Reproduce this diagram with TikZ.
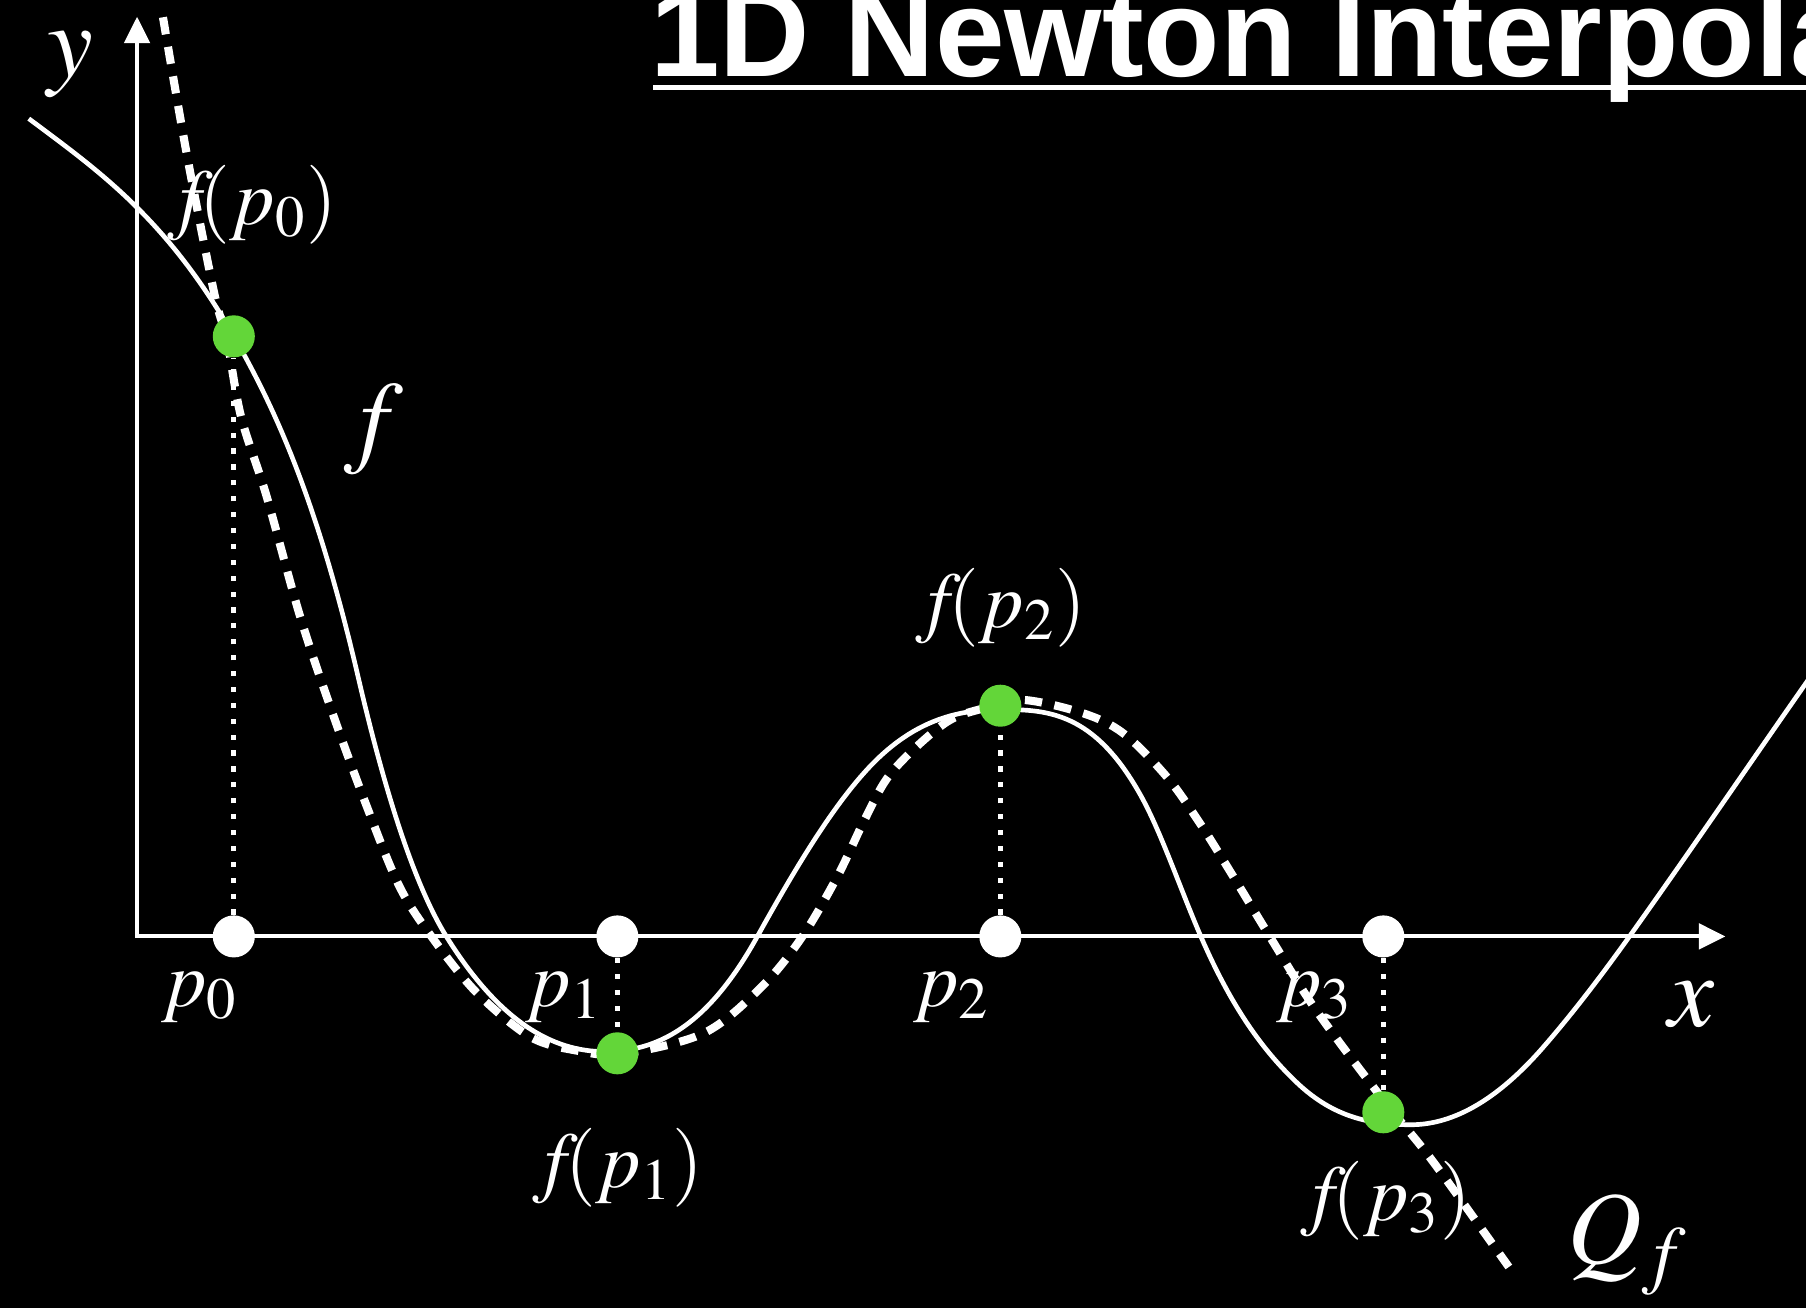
\documentclass[tikz,border=0pt]{standalone}
\usepackage{mathptmx}
\usepackage{fontspec}
\setmainfont{Liberation Serif}
\newfontfamily\titlefont{Liberation Sans}
\usetikzlibrary{arrows.meta,calc}
\definecolor{bg}{RGB}{0,0,0}
\definecolor{ink}{RGB}{255,255,255}
\definecolor{valgreen}{RGB}{99,214,57}

\begin{document}
\begin{tikzpicture}[
    >={Triangle[length=0.23cm,width=0.22cm]},
    axis/.style={draw=ink, line width=1.0pt},
    fcurve/.style={draw=ink, line width=1.15pt},
    qcurve/.style={draw=ink, line width=2pt, dash pattern=on 0.15cm off 0.11cm},
    drop/.style={draw=ink, line width=1.25pt, dash pattern=on 0.045cm off 0.093cm},
    xdot/.style={circle, fill=ink, inner sep=0pt, minimum size=0.365cm},
    ydot/.style={circle, fill=valgreen, inner sep=0pt, minimum size=0.365cm},
    smalllabel/.style={text=ink, inner sep=0pt, anchor=base, font=\fontsize{19.5}{23}\selectfont},
    biglabel/.style={text=ink, inner sep=0pt, anchor=base, font=\fontsize{25.5}{30}\selectfont},
    heading/.style={text=ink, inner sep=0pt, anchor=base west, font=\titlefont\bfseries\fontsize{30.9}{36}\selectfont}
]

% Canvas
\useasboundingbox (0,0) rectangle (15.68,11.36);
\fill[bg] (0,0) rectangle (15.68,11.36);

% Title (runs off the right edge)
\begin{scope}
    \clip (0,0) rectangle (15.68,11.36);
    \node[heading] (title) at (5.64,10.70) {1D Newton Interpolation};
    \draw[ink, line width=1.2pt] ($(title.base west)+(0.03,-0.10)$) -- ++(10.5,0);
\end{scope}

% Axes
\coordinate (origin) at (1.19,3.23);
\coordinate (xtip) at (14.98,3.23);
\coordinate (ytip) at (1.19,11.215);
\draw[axis, <->] (ytip) |- (xtip);

% Function f
\begin{scope}
    \clip (0,0) rectangle (15.68,11.36);
    \draw[fcurve] (0.25,10.33)
        .. controls (0.843,9.885) and (1.437,9.478) .. (2.03,8.44)
        .. controls (2.39,7.81) and (2.75,7.028) .. (3.11,5.48)
        .. controls (3.366,4.379) and (3.622,3.635) .. (3.878,3.225)
        .. controls (4.335,2.493) and (4.793,2.23) .. (5.25,2.23)
        .. controls (5.69,2.23) and (6.13,2.428) .. (6.57,3.22)
        .. controls (6.887,3.79) and (7.203,4.322) .. (7.52,4.67)
        .. controls (7.91,5.099) and (8.30,5.20) .. (8.69,5.20)
        .. controls (9.095,5.20) and (9.501,5.18) .. (9.906,4.45)
        .. controls (10.081,4.136) and (10.255,3.622) .. (10.43,3.22)
        .. controls (10.707,2.584) and (10.983,2.223) .. (11.26,1.96)
        .. controls (11.59,1.6465) and (11.92,1.595) .. (12.25,1.595)
        .. controls (12.633,1.595) and (13.017,1.829) .. (13.40,2.27)
        .. controls (13.647,2.554) and (13.893,2.875) .. (14.14,3.22)
        .. controls (14.653,3.939) and (15.167,4.696) .. (15.68,5.43)
        .. controls (15.853,5.677) and (16.027,5.923) .. (16.2,6.17);
\end{scope}

% Interpolant Q_f
\draw[qcurve] plot[smooth, tension=0.55] coordinates {
    (1.415,11.21) (1.62,10.03) (1.86,8.814) (1.97,8.41) (2.093,7.742)
    (2.315,7.05) (2.605,6.01) (2.89,5.16) (3.184,4.36) (3.47,3.66)
    (3.76,3.21) (4.14,2.74) (4.60,2.36) (5.00,2.24) (5.40,2.21)
    (6.11,2.39) (6.61,2.79) (6.96,3.22) (7.27,3.75) (7.50,4.23)
    (7.70,4.60) (7.96,4.88) (8.25,5.11) (8.54,5.21) (8.885,5.283)
    (9.405,5.167) (9.753,4.993) (10.129,4.617) (10.418,4.212) (10.708,3.749)
    (11.03,3.22) (11.426,2.59) (12.01,1.81) (12.43,1.29) (13.10,0.36)};

% Sample points on the x axis
\node[xdot] (p0) at (2.03,3.23) {};
\node[xdot] (p1) at (5.36,3.23) {};
\node[xdot] (p2) at (8.685,3.23) {};
\node[xdot] (p3) at (12.01,3.23) {};

% Function values
\node[ydot] (g0) at (2.03,8.44) {};
\node[ydot] (g1) at (5.36,2.215) {};
\node[ydot] (g2) at (8.685,5.233) {};
\node[ydot] (g3) at (12.01,1.703) {};

% Drop lines
\draw[drop] (p0) -- (g0);
\draw[drop] (p1) -- (g1);
\draw[drop] (p2) -- (g2);
\draw[drop] (p3) -- (g3);

% Labels
\node[smalllabel] (lp0) at (1.735,2.62) {$p_0$};
\node[smalllabel] (lp1) at (4.90,2.62) {$p_1$};
\node[smalllabel] (lp2) at (8.26,2.62) {$p_2$};
\node[smalllabel] (lp3) at (11.415,2.62) {$p_3$};
\node[smalllabel] (lfp0) at (2.19,9.41) {$f\mkern-3mu(p_0)$};
\node[smalllabel] (lfp1) at (5.365,1.05) {$f\mkern-3mu(p_1)$};
\node[smalllabel] (lfp2) at (8.69,5.91) {$f\mkern-3mu(p_2)$};
\node[smalllabel] (lfp3) at (12.03,0.76) {$f\mkern-3mu(p_3)$};
\node[biglabel] (lx) at (14.69,2.45) {$x$};
\node[biglabel] (ly) at (0.61,10.70) {$y$};
\node[biglabel] (lf) at (3.24,7.42) {$f$};
\node[biglabel] (lq) at (14.13,0.39) {$Q_f$};

\end{tikzpicture}
\end{document}
